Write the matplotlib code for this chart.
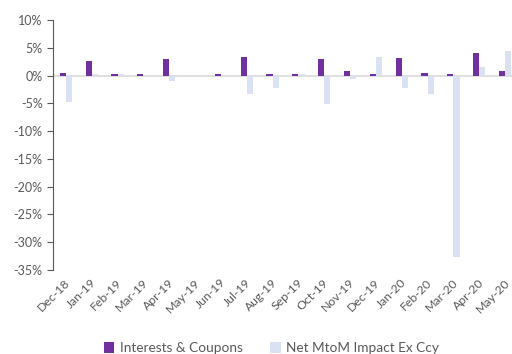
import matplotlib.pyplot as plt
import numpy as np
from matplotlib.ticker import FuncFormatter

months = ['Dec-18', 'Jan-19', 'Feb-19', 'Mar-19', 'Apr-19', 'May-19', 'Jun-19',
          'Jul-19', 'Aug-19', 'Sep-19', 'Oct-19', 'Nov-19', 'Dec-19', 'Jan-20',
          'Feb-20', 'Mar-20', 'Apr-20', 'May-20']
interests = [0.5, 2.7, 0.3, 0.3, 3.0, 0.0, 0.3, 3.4, 0.3, 0.3, 2.9, 0.75,
             0.3, 3.2, 0.5, 0.3, 4.0, 0.8]
net_mtom = [-4.8, 0.2, 0.2, -0.1, -1.0, 0.0, 0.0, -3.4, -2.3, 0.2, -5.1, -0.6,
            3.3, -2.3, -3.4, -32.6, 1.6, 4.4]

plt.rcParams['font.family'] = ['Lato', 'DejaVu Sans']
grey = '#595959'

fig = plt.figure(figsize=(5.12, 3.54), dpi=100)
ax = fig.add_axes([53 / 512, 1 - 270 / 354, 465 / 512, 250 / 354])

x = np.arange(len(months))
w = 0.24
ax.bar(x - w / 2, interests, w, color='#7030A0', label='Interests & Coupons', zorder=3)
ax.bar(x + w / 2, net_mtom, w, color='#D9E1F2', label='Net MtoM Impact Ex Ccy', zorder=3)

ax.set_xlim(-0.5, len(months) - 0.5)
ax.set_ylim(-35, 10)
ax.set_yticks(np.arange(-35, 11, 5))
ax.yaxis.set_major_formatter(FuncFormatter(lambda v, p: '%d%%' % v))
ax.axhline(0, color='#D9D9D9', lw=1.2, zorder=2)

for s in ['top', 'right', 'bottom']:
    ax.spines[s].set_visible(False)
ax.spines['left'].set_color(grey)
ax.tick_params(axis='y', colors=grey, labelsize=9, length=4, direction='out')

# month labels sit under the plot area, not on the zero line
ax.set_xticks([])
for i, m in enumerate(months):
    ax.text(i + 0.25, -36.2, m, rotation=45, ha='right', va='top',
            fontsize=8.8, color=grey)

fig.legend(loc='lower center', bbox_to_anchor=(0.53, -0.035), ncol=2, frameon=False,
           fontsize=9.8, handlelength=0.8, handleheight=0.8, columnspacing=2.0,
           handletextpad=0.4, labelcolor=grey)

fig.savefig('out.png', dpi=100)
